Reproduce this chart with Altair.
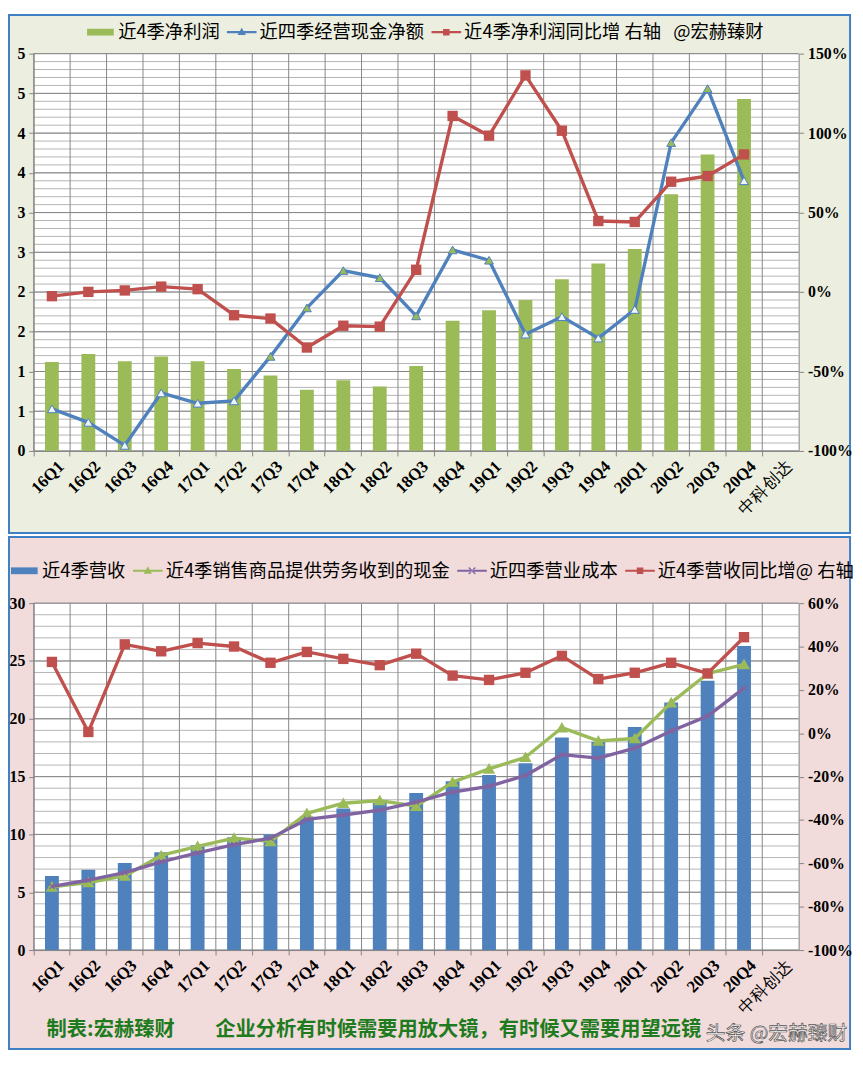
import altair as alt
import pandas as pd

# ---------------- data ----------------
quarters = ['16Q1', '16Q2', '16Q3', '16Q4', '17Q1', '17Q2', '17Q3', '17Q4',
            '18Q1', '18Q2', '18Q3', '18Q4', '19Q1', '19Q2', '19Q3', '19Q4',
            '20Q1', '20Q2', '20Q3', '20Q4']
categories = quarters + ['中科创达']

# top panel
net_profit_4q = [1.12, 1.22, 1.13, 1.19, 1.13, 1.03, 0.95, 0.77, 0.89, 0.81,
                 1.07, 1.64, 1.77, 1.90, 2.16, 2.36, 2.54, 3.23, 3.73, 4.43]
op_cash_4q = [0.53, 0.36, 0.07, 0.73, 0.60, 0.63, 1.19, 1.80, 2.27, 2.18,
              1.70, 2.53, 2.40, 1.47, 1.69, 1.42, 1.78, 3.88, 4.56, 3.40]
net_profit_yoy = [-0.026, 0.001, 0.010, 0.034, 0.018, -0.146, -0.167, -0.349, -0.212, -0.218,
                  0.140, 1.108, 0.984, 1.363, 1.015, 0.447, 0.441, 0.694, 0.730, 0.866]

# bottom panel
revenue_4q = [6.41, 6.95, 7.52, 8.46, 9.06, 9.75, 9.97, 11.54, 12.25, 12.74,
              13.59, 14.60, 15.15, 16.15, 18.38, 18.00, 19.30, 21.40, 23.30, 26.30]
sales_cash_4q = [5.47, 5.84, 6.41, 8.18, 8.97, 9.68, 9.40, 11.82, 12.70, 12.93,
                 12.45, 14.53, 15.67, 16.67, 19.23, 18.09, 18.30, 21.40, 23.90, 24.70]
op_cost_4q = [5.50, 6.04, 6.70, 7.63, 8.40, 9.12, 9.68, 11.30, 11.68, 12.10,
              12.80, 13.67, 14.16, 15.10, 16.90, 16.60, 17.46, 18.95, 20.23, 22.65]
revenue_yoy = [0.329, 0.006, 0.410, 0.378, 0.416, 0.400, 0.325, 0.375, 0.343, 0.314,
               0.367, 0.266, 0.246, 0.279, 0.357, 0.250, 0.279, 0.325, 0.276, 0.443]

NB = '\u00A0'
top_series = ['近4季净利润', '近四季经营现金净额', '近4季净利润同比增 右轴' + NB * 3 + '@宏赫臻财']
bottom_series = ['近4季营收', '近4季销售商品提供劳务收到的现金', '近四季营业成本', '近4季营收同比增@ 右轴']

top_left_major = [0, 0.5, 1, 1.5, 2, 2.5, 3, 3.5, 4, 4.5, 5]
top_left_minor = [round(i / 10, 1) for i in range(51)]
top_right_ticks = [-1, -0.5, 0, 0.5, 1, 1.5]
bot_left_major = [0, 5, 10, 15, 20, 25, 30]
bot_left_minor = list(range(31))
bot_right_ticks = [-1, -0.8, -0.6, -0.4, -0.2, 0, 0.2, 0.4, 0.6]

footer_text = '制表:宏赫臻财\u3000\u3000企业分析有时候需要用放大镜，有时候又需要用望远镜'
watermark_text = '头条 @宏赫臻财'

# ---------------- style ----------------
GREEN = '#9BBB59'
BLUE = '#4F81BD'
RED = '#C0504D'
PURPLE = '#8064A2'
MAJOR = '#868686'
MINOR = '#B4B4B4'
TOP_BG = '#ECEFDF'
BOT_BG = '#F2DCDB'
BORDER = '#3F7FC4'
W = 774
H1 = 402
H2 = 351
SERIF = 'Liberation Serif'
CJK = 'Noto Sans CJK SC'
LW = 3.4

top_df = pd.DataFrame({'cat': quarters, 'profit': net_profit_4q,
                       'cash': op_cash_4q, 'yoy': net_profit_yoy})
bot_df = pd.DataFrame({'cat': quarters, 'rev': revenue_4q, 'sales': sales_cash_4q,
                       'cost': op_cost_4q, 'yoy': revenue_yoy})
one_row = pd.DataFrame({'k': [0]})

x_scale = alt.Scale(domain=categories, paddingInner=0, paddingOuter=0)
x_axis = alt.Axis(
    title=None, bandPosition=0, labelOffset=4, labelAngle=-45,
    labelFont=SERIF, labelFontSize=17, labelColor='black',
    labelFontWeight={"condition": {"test": "datum.label == '中科创达'", "value": "normal"}, "value": "bold"},
    tickSize=5, tickColor=MAJOR, domainColor=MAJOR, grid=False,
    labelOverlap=False, labelPadding=2, zindex=2,
)


def X(**kw):
    return alt.X('cat:N', scale=x_scale, axis=x_axis, sort=None, **kw)


def left_axis(values, fmt):
    return alt.Axis(title=None, orient='left', values=values, format=fmt, grid=False,
                    tickSize=5, tickColor=MAJOR, domainColor=MAJOR,
                    labelFont=SERIF, labelFontWeight='bold', labelFontSize=16,
                    labelColor='black', labelPadding=4, zindex=2)


def right_axis(values):
    return alt.Axis(title=None, orient='right', values=values, grid=False,
                    labelExpr="(datum.value < -0.0001 ? '-' : '') + format(abs(datum.value) * 100, '.0f') + '%'",
                    tickSize=5, tickColor=MAJOR, domainColor=MAJOR,
                    labelFont=SERIF, labelFontWeight='bold', labelFontSize=16,
                    labelColor='black', labelPadding=4, zindex=2)


def legend(x, y):
    return alt.Legend(title=None, orient='none', legendX=x, legendY=y, direction='horizontal',
                      symbolSize=900, symbolStrokeWidth=0, symbolOpacity=1, padding=0,
                      labelFont=CJK, labelFontSize=18.5, labelColor='black',
                      columnPadding=7, labelOffset=3, labelLimit=700, zindex=2)


BAR_PATH = 'M-0.9,-0.23H0.9V0.23H-0.9Z'
LINE = 'M-1,-0.07H1V0.07H-1Z'
TRI_PATH = LINE + ' M0,-0.3L0.28,0.2H-0.28Z'
SQ_PATH = LINE + ' M-0.22,-0.22H0.22V0.22H-0.22Z'
X_PATH = LINE + (' M-0.25,-0.19L-0.19,-0.25L0.25,0.19L0.19,0.25Z'
                 ' M0.25,-0.19L0.19,-0.25L-0.25,0.19L-0.19,0.25Z')


def grid_layers(minor, major, yscale, yaxis):
    g_minor = alt.Chart(pd.DataFrame({'v': minor})).mark_rule(color=MINOR, strokeWidth=1).encode(
        y=alt.Y('v:Q', scale=yscale, axis=yaxis))
    g_major = alt.Chart(pd.DataFrame({'v': major})).mark_rule(color=MAJOR, strokeWidth=1).encode(
        y=alt.Y('v:Q', scale=yscale, axis=yaxis))
    g_vert = alt.Chart(pd.DataFrame({'cat': categories})).mark_rule(color=MAJOR, strokeWidth=1).encode(
        x=X(bandPosition=0))
    return [g_minor, g_major, g_vert]


# ---------------- top panel ----------------
yl_top = alt.Scale(domain=[0, 5], nice=False, zero=False)
yl_top_axis = left_axis(top_left_major, '.0f')

top_panel_bg = alt.Chart(one_row).mark_rect(fill=TOP_BG, stroke=BORDER, strokeWidth=2).encode(
    x=alt.value(-25), x2=alt.value(826), y=alt.value(-39), y2=alt.value(485))
top_plot_bg = alt.Chart(one_row).mark_rect(fill='white').encode(
    x=alt.value(0), x2=alt.value(W), y=alt.value(0), y2=alt.value(H1))

top_bars = alt.Chart(top_df).mark_bar(color=GREEN, width=alt.RelativeBandSize(0.38)).encode(
    x=X(), y=alt.Y('profit:Q', scale=yl_top, axis=yl_top_axis))
top_cash_line = alt.Chart(top_df).mark_line(color=BLUE, strokeWidth=LW, strokeJoin='round').encode(
    x=X(), y=alt.Y('cash:Q', scale=yl_top, axis=yl_top_axis))
top_cash_pts = alt.Chart(top_df).mark_point(shape='triangle-up', size=80, filled=True,
                                            stroke=BLUE, strokeWidth=1, opacity=1).encode(
    x=X(), y=alt.Y('cash:Q', scale=yl_top, axis=yl_top_axis),
    fill=alt.condition('datum.cash > datum.profit', alt.value(GREEN), alt.value('#EEF3FA')))
top_legend_layer = alt.Chart(pd.DataFrame({'series_top': top_series})).transform_filter('false').mark_point(
    filled=True).encode(
    color=alt.Color('series_top:N', scale=alt.Scale(domain=top_series, range=[GREEN, BLUE, RED]),
                    legend=legend(52.5, -37)),
    shape=alt.Shape('series_top:N', scale=alt.Scale(domain=top_series,
                                                    range=[BAR_PATH, TRI_PATH, SQ_PATH]),
                    legend=legend(52.5, -37)))

top_left = alt.layer(top_panel_bg, top_plot_bg,
                     *grid_layers(top_left_minor, top_left_major, yl_top, yl_top_axis),
                     top_bars, top_cash_line, top_cash_pts, top_legend_layer)

top_yoy = alt.Chart(top_df).mark_line(
    color=RED, strokeWidth=LW, strokeJoin='round',
    point=alt.OverlayMarkDef(shape='square', size=110, filled=True, color=RED)).encode(
    x=X(), y=alt.Y('yoy:Q', scale=alt.Scale(domain=[-1, 1.5], nice=False, zero=False),
                   axis=right_axis(top_right_ticks)))

top_chart = alt.layer(top_left, top_yoy).resolve_scale(y='independent').properties(width=W, height=H1)

# ---------------- bottom panel ----------------
yl_bot = alt.Scale(domain=[0, 30], nice=False, zero=False)
yl_bot_axis = left_axis(bot_left_major, 'd')

bot_panel_bg = alt.Chart(one_row).mark_rect(fill=BOT_BG, stroke=BORDER, strokeWidth=2).encode(
    x=alt.value(-25), x2=alt.value(826), y=alt.value(-67), y2=alt.value(451))
bot_plot_bg = alt.Chart(one_row).mark_rect(fill='white').encode(
    x=alt.value(0), x2=alt.value(W), y=alt.value(0), y2=alt.value(H2))

bot_bars = alt.Chart(bot_df).mark_bar(color=BLUE, width=alt.RelativeBandSize(0.38)).encode(
    x=X(), y=alt.Y('rev:Q', scale=yl_bot, axis=yl_bot_axis))
bot_sales_line = alt.Chart(bot_df).mark_line(color=GREEN, strokeWidth=LW, strokeJoin='round').encode(
    x=X(), y=alt.Y('sales:Q', scale=yl_bot, axis=yl_bot_axis))
bot_sales_pts = alt.Chart(bot_df).mark_point(shape='triangle-up', size=80, filled=True,
                                             color=GREEN, stroke=GREEN, opacity=1).encode(
    x=X(), y=alt.Y('sales:Q', scale=yl_bot, axis=yl_bot_axis))
bot_cost_line = alt.Chart(bot_df).mark_line(color=PURPLE, strokeWidth=LW, strokeJoin='round').encode(
    x=X(), y=alt.Y('cost:Q', scale=yl_bot, axis=yl_bot_axis))
bot_cost_pts = alt.Chart(bot_df).mark_point(shape='M-1,-1L1,1M-1,1L1,-1', size=30, filled=False,
                                            color=PURPLE, strokeWidth=1.2, opacity=1).encode(
    x=X(), y=alt.Y('cost:Q', scale=yl_bot, axis=yl_bot_axis))
bot_legend_layer = alt.Chart(pd.DataFrame({'series_bot': bottom_series})).transform_filter('false').mark_point(
    filled=True).encode(
    color=alt.Color('series_bot:N', scale=alt.Scale(domain=bottom_series,
                                                    range=[BLUE, GREEN, PURPLE, RED]),
                    legend=legend(-24.5, -48)),
    shape=alt.Shape('series_bot:N', scale=alt.Scale(domain=bottom_series,
                                                    range=[BAR_PATH, TRI_PATH, X_PATH, SQ_PATH]),
                    legend=legend(-24.5, -48)))
footer = alt.Chart(one_row).mark_text(
    text=footer_text, align='left', baseline='middle', font=CJK, fontSize=20.5,
    fontWeight='bold', color='#1E7B1E').encode(x=alt.value(13), y=alt.value(432))
watermark = alt.Chart(one_row).mark_text(
    text=watermark_text, align='left', baseline='middle', font=CJK, fontSize=20,
    color='#FFFFFF', stroke='#555555', strokeWidth=0.7).encode(x=alt.value(680), y=alt.value(436))

bot_left = alt.layer(bot_panel_bg, bot_plot_bg,
                     *grid_layers(bot_left_minor, bot_left_major, yl_bot, yl_bot_axis),
                     bot_bars, bot_sales_line, bot_sales_pts, bot_cost_line, bot_cost_pts,
                     bot_legend_layer, footer, watermark)

bot_yoy = alt.Chart(bot_df).mark_line(
    color=RED, strokeWidth=LW, strokeJoin='round',
    point=alt.OverlayMarkDef(shape='square', size=110, filled=True, color=RED)).encode(
    x=X(), y=alt.Y('yoy:Q', scale=alt.Scale(domain=[-1, 0.6], nice=False, zero=False),
                   axis=right_axis(bot_right_ticks)))

bot_chart = alt.layer(bot_left, bot_yoy).resolve_scale(y='independent').properties(width=W, height=H2)

chart = alt.vconcat(top_chart, bot_chart, spacing=154, bounds='flush').resolve_scale(
    x='independent', y='independent', color='independent', shape='independent'
).properties(
    padding={"left": 0, "top": 0, "right": 0, "bottom": 0}
).configure(background='white').configure_view(stroke=None)

chart.save("out.html", embed_options={"renderer": "svg", "actions": False})
